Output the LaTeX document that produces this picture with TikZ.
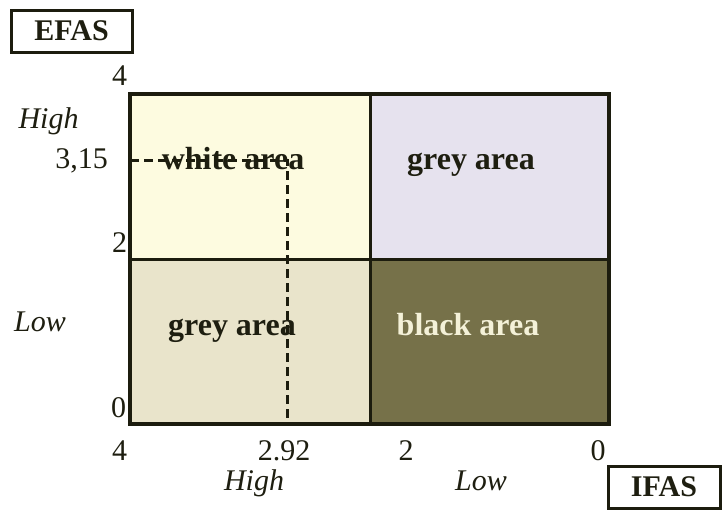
\documentclass[tikz,border=0pt]{standalone}
\usepackage{fontspec}
\setmainfont{Liberation Serif}
\definecolor{tlc}{HTML}{FDFBE0}
\definecolor{trc}{HTML}{E6E2EE}
\definecolor{blc}{HTML}{E9E4CB}
\definecolor{brc}{HTML}{767149}
\definecolor{edge}{HTML}{1C1C0E}
\definecolor{ink}{HTML}{1E1E10}
\definecolor{lightink}{HTML}{F4F1D8}
\begin{document}
\begin{tikzpicture}[x=1pt,y=-1pt,
  lbl/.style={anchor=base,inner sep=0pt,text=ink,font=\fontsize{30}{30}\selectfont},
  ilbl/.style={lbl,font=\fontsize{30}{30}\selectfont\itshape},
  area/.style={anchor=base,inner sep=0pt,text=ink,font=\fontsize{32}{32}\selectfont\bfseries},
  tagbox/.style={draw=edge,line width=3pt,minimum height=42pt,inner sep=0pt,text=ink,font=\fontsize{30}{30}\selectfont\bfseries},
  outer/.style={draw=edge,line width=4.5pt},
  inner/.style={draw=edge,line width=3pt},
  guide/.style={draw=edge,line width=3pt,dash pattern=on 9pt off 5pt}]
\useasboundingbox (0,0) rectangle (722,509);
\fill[white] (0,0) rectangle (722,509);
% corners
\coordinate (tl) at (130,94);
\coordinate (tm) at (370,94);
\coordinate (tr) at (609,94);
\coordinate (ml) at (130,259);
\coordinate (mm) at (370,259);
\coordinate (mr) at (609,259);
\coordinate (bl) at (130,424);
\coordinate (bm) at (370,424);
\coordinate (br) at (609,424);
% quadrant fills
\fill[tlc] (tl) rectangle (mm);
\fill[trc] (tm) rectangle (mr);
\fill[blc] (ml) rectangle (bm);
\fill[brc] (mm) rectangle (br);
% dashed guide lines
\coordinate (gl) at (130,160);
\coordinate (gc) at (287,160);
\coordinate (gb) at (287,424);
\path[guide] (gl) -- (gc) -- (gb);
% grid lines
\path[inner] (tm) -- (bm);
\path[inner] (ml) -- (mr);
\path[outer] (tl) rectangle (br);
% area labels
\node[area] (white) at (233,169) {white area};
\node[area] (greyA) at (471,169) {grey area};
\node[area] (greyB) at (232,335) {grey area};
\node[area,text=lightink] (black) at (468,335) {black area};
% y axis
\node[tagbox,minimum width=121pt] (efas) at (71.5,31) {EFAS};
\node[lbl] (y4) at (119.5,85) {4};
\node[ilbl] (yhigh) at (48.5,128) {High};
\node[lbl] (y315) at (81.5,168) {3,15};
\node[lbl] (y2) at (119.5,252) {2};
\node[ilbl] (ylow) at (40,331) {Low};
\node[lbl] (y0) at (118.5,417) {0};
% x axis
\node[lbl] (x4) at (119.5,460) {4};
\node[lbl] (x292) at (284,460) {2.92};
\node[lbl] (x2) at (406,460) {2};
\node[lbl] (x0) at (598,460) {0};
\node[ilbl] (xhigh) at (254,490) {High};
\node[ilbl] (xlow) at (481,490) {Low};
\node[tagbox,minimum width=112pt] (ifas) at (664,487) {IFAS};
\end{tikzpicture}
\end{document}
